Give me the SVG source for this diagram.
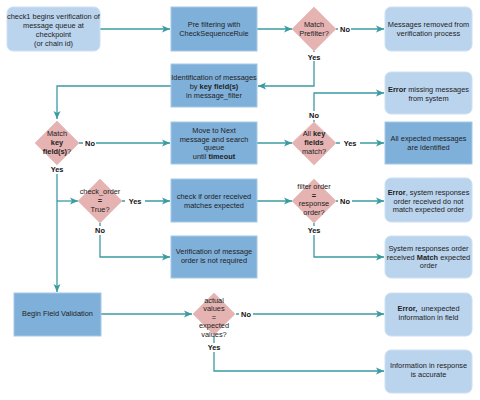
<svg xmlns="http://www.w3.org/2000/svg" width="480" height="400" viewBox="0 0 480 400">
  <style>
    .lt { fill: #bad4ee; stroke: #cde0f3; stroke-width: 1; }
    .dk { fill: #7fb0da; stroke: #a6c8e6; stroke-width: 1; }
    .dm { fill: #e6b3b3; stroke: #ecc3c3; stroke-width: 1; }
    text { font-family: "Liberation Sans", Arial, sans-serif; font-size: 7.4px; fill: #222; text-anchor: middle; }
    .b { font-weight: bold; }
    .edge { fill: none; stroke: #3a9ba1; stroke-width: 1.3; }
    .lbl { font-weight: bold; font-size: 7.4px; fill: #111; }
    .lblbg { fill: #ffffff; }
  </style>
  <defs>
    <marker id="arr" markerWidth="9" markerHeight="8" refX="8" refY="4" orient="auto" markerUnits="userSpaceOnUse">
      <path d="M0,0.5 L8,4 L0,7.5 L2,4 z" fill="#3a9ba1"/>
    </marker>
  </defs>

  <!-- connectors -->
  <g id="connectors">
    <path class="edge" d="M100,29 H170" marker-end="url(#arr)"/>
    <path class="edge" d="M257,29 H292" marker-end="url(#arr)"/>
    <path class="edge" d="M336,29 H384" marker-end="url(#arr)"/>
    <path class="edge" d="M314,51 V86 H258" marker-end="url(#arr)"/>
    <path class="edge" d="M171,86 H57 V119" marker-end="url(#arr)"/>
    <path class="edge" d="M79,143 H170" marker-end="url(#arr)"/>
    <path class="edge" d="M257,143 H292" marker-end="url(#arr)"/>
    <path class="edge" d="M314,122 V93 H384" marker-end="url(#arr)"/>
    <path class="edge" d="M336,143 H384" marker-end="url(#arr)"/>
    <path class="edge" d="M57,165 V292" marker-end="url(#arr)"/>
    <path class="edge" d="M57,201 H78" marker-end="url(#arr)"/>
    <path class="edge" d="M122,201 H170" marker-end="url(#arr)"/>
    <path class="edge" d="M257,201 H292" marker-end="url(#arr)"/>
    <path class="edge" d="M336,201 H384" marker-end="url(#arr)"/>
    <path class="edge" d="M314,223 V257 H384" marker-end="url(#arr)"/>
    <path class="edge" d="M100,222 V257 H170" marker-end="url(#arr)"/>
    <path class="edge" d="M101,314 H192" marker-end="url(#arr)"/>
    <path class="edge" d="M236,314 H384" marker-end="url(#arr)"/>
    <path class="edge" d="M214,336 V371 H384" marker-end="url(#arr)"/>

    <!-- edge labels -->
    <rect class="lblbg" x="338" y="25" width="13" height="9"/>
    <text class="lbl" x="345" y="32">No</text>
    <rect class="lblbg" x="304" y="52" width="20" height="9"/>
    <text class="lbl" x="314" y="60">Yes</text>
    <rect class="lblbg" x="83" y="139" width="13" height="9"/>
    <text class="lbl" x="90" y="146">No</text>
    <rect class="lblbg" x="47" y="165" width="20" height="9"/>
    <text class="lbl" x="57" y="172">Yes</text>
    <rect class="lblbg" x="307" y="111" width="14" height="9"/>
    <text class="lbl" x="314" y="118">No</text>
    <rect class="lblbg" x="340" y="139" width="20" height="9"/>
    <text class="lbl" x="350" y="146">Yes</text>
    <rect class="lblbg" x="125" y="197" width="20" height="9"/>
    <text class="lbl" x="135" y="204">Yes</text>
    <rect class="lblbg" x="338" y="197" width="14" height="9"/>
    <text class="lbl" x="345" y="204">No</text>
    <rect class="lblbg" x="93" y="226" width="14" height="9"/>
    <text class="lbl" x="100" y="233">No</text>
    <rect class="lblbg" x="304" y="226" width="20" height="9"/>
    <text class="lbl" x="314" y="233">Yes</text>
    <rect class="lblbg" x="239" y="310" width="14" height="9"/>
    <text class="lbl" x="246" y="317">No</text>
    <rect class="lblbg" x="204" y="343" width="20" height="9"/>
    <text class="lbl" x="214" y="350">Yes</text>
  </g>

  <!-- nodes -->
  <g id="start">
    <rect class="lt" x="7" y="7" width="93" height="44" rx="6"/>
    <text x="53.5" y="19">check1 begins verification of</text>
    <text x="53.5" y="28">message queue at</text>
    <text x="53.5" y="37">checkpoint</text>
    <text x="53.5" y="46">(or chain id)</text>
  </g>
  <g id="prefilter">
    <rect class="dk" x="171" y="7" width="86" height="44"/>
    <text x="214" y="27">Pre filtering with</text>
    <text x="214" y="36">CheckSequenceRule</text>
  </g>
  <g id="match-prefilter">
    <polygon class="dm" points="314,7 336,29 314,51 292,29"/>
    <text x="314" y="27">Match</text>
    <text x="314" y="36">Prefilter?</text>
  </g>
  <g id="removed">
    <rect class="lt" x="385" y="7" width="87" height="44" rx="6"/>
    <text x="428.5" y="27">Messages removed from</text>
    <text x="428.5" y="36">verification process</text>
  </g>
  <g id="identification">
    <rect class="dk" x="171" y="64" width="86" height="43"/>
    <text x="214" y="80">Identification of messages</text>
    <text x="214" y="89">by <tspan class="b">key field(s)</tspan></text>
    <text x="214" y="98">in message_filter</text>
  </g>
  <g id="match-key">
    <polygon class="dm" points="57,121 79,143 57,165 35,143"/>
    <text x="57" y="136">Match</text>
    <text x="57" y="145" class="b">key</text>
    <text x="57" y="154"><tspan class="b">field(s)</tspan>?</text>
  </g>
  <g id="move-next">
    <rect class="dk" x="171" y="122" width="86" height="42"/>
    <text x="214" y="133">Move to Next</text>
    <text x="214" y="142">message and search</text>
    <text x="214" y="150">queue</text>
    <text x="214" y="159">until <tspan class="b">timeout</tspan></text>
  </g>
  <g id="all-key">
    <polygon class="dm" points="314,122 336,143 314,165 292,143"/>
    <text x="314" y="136">All <tspan class="b">key</tspan></text>
    <text x="314" y="145" class="b">fields</text>
    <text x="314" y="154">match?</text>
  </g>
  <g id="error-missing">
    <rect class="lt" x="385" y="72" width="87" height="42" rx="6"/>
    <text x="428.5" y="92"><tspan class="b">Error</tspan> missing messages</text>
    <text x="428.5" y="101">from system</text>
  </g>
  <g id="all-identified">
    <rect class="dk" x="385" y="122" width="87" height="42"/>
    <text x="428.5" y="141">All expected messages</text>
    <text x="428.5" y="150">are identified</text>
  </g>
  <g id="check-order">
    <polygon class="dm" points="100,179 122,201 100,223 78,201"/>
    <text x="100" y="194">check_order</text>
    <text x="100" y="203" class="b">=</text>
    <text x="100" y="212">True?</text>
  </g>
  <g id="check-received">
    <rect class="dk" x="171" y="179" width="86" height="43"/>
    <text x="214" y="199">check if order received</text>
    <text x="214" y="208">matches expected</text>
  </g>
  <g id="filter-order">
    <polygon class="dm" points="314,179 336,201 314,223 292,201"/>
    <text x="314" y="189">filter order</text>
    <text x="314" y="198" class="b">=</text>
    <text x="314" y="206">response</text>
    <text x="314" y="215">order?</text>
  </g>
  <g id="error-order">
    <rect class="lt" x="385" y="178" width="87" height="44" rx="6"/>
    <text x="428.5" y="195"><tspan class="b">Error</tspan>, system responses</text>
    <text x="428.5" y="204">order received do not</text>
    <text x="428.5" y="212">match expected order</text>
  </g>
  <g id="order-match">
    <rect class="lt" x="385" y="236" width="87" height="42" rx="6"/>
    <text x="428.5" y="251">System responses order</text>
    <text x="428.5" y="260">received <tspan class="b">Match</tspan> expected</text>
    <text x="428.5" y="268">order</text>
  </g>
  <g id="order-not-required">
    <rect class="dk" x="171" y="236" width="86" height="42"/>
    <text x="214" y="254">Verification of message</text>
    <text x="214" y="263">order is not required</text>
  </g>
  <g id="field-validation">
    <rect class="dk" x="14" y="293" width="87" height="43"/>
    <text x="57.5" y="316">Begin Field Validation</text>
  </g>
  <g id="actual-values">
    <polygon class="dm" points="214,293 235,314 214,335 193,314"/>
    <text x="214" y="303">actual</text>
    <text x="214" y="311">values</text>
    <text x="214" y="320">=</text>
    <text x="214" y="328">expected</text>
    <text x="214" y="337">values?</text>
  </g>
  <g id="error-field">
    <rect class="lt" x="385" y="293" width="87" height="43" rx="6"/>
    <text x="428.5" y="311"><tspan class="b">Error,</tspan>&#160; unexpected</text>
    <text x="428.5" y="320">information in field</text>
  </g>
  <g id="accurate">
    <rect class="lt" x="385" y="350" width="87" height="43" rx="6"/>
    <text x="428.5" y="368">Information in response</text>
    <text x="428.5" y="377">is accurate</text>
  </g>
</svg>
